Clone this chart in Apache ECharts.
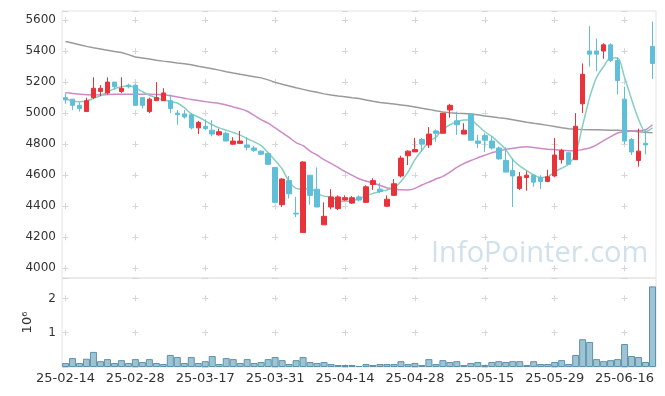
<!DOCTYPE html>
<html><head><meta charset="utf-8">
<script src="https://cdn.jsdelivr.net/npm/echarts@6/dist/echarts.min.js"></script>
<style>html,body{margin:0;padding:0;background:#fff}#c{width:665px;height:396px}</style>
</head><body><div id="c"></div>
<script>
const dates = ['25-02-14','25-02-17','25-02-18','25-02-19','25-02-20','25-02-21','25-02-24','25-02-25','25-02-26','25-02-27','25-02-28',
'25-03-04','25-03-05','25-03-06','25-03-07','25-03-10','25-03-11','25-03-12','25-03-13','25-03-14','25-03-17',
'25-03-18','25-03-19','25-03-20','25-03-21','25-03-24','25-03-25','25-03-26','25-03-27','25-03-28','25-03-31',
'25-04-01','25-04-02','25-04-03','25-04-04','25-04-07','25-04-08','25-04-09','25-04-10','25-04-11','25-04-14',
'25-04-15','25-04-16','25-04-17','25-04-18','25-04-21','25-04-22','25-04-23','25-04-24','25-04-25','25-04-28',
'25-04-29','25-04-30','25-05-02','25-05-07','25-05-08','25-05-09','25-05-12','25-05-13','25-05-14','25-05-15',
'25-05-16','25-05-19','25-05-20','25-05-21','25-05-22','25-05-23','25-05-26','25-05-27','25-05-28','25-05-29',
'25-05-30','25-06-02','25-06-04','25-06-05','25-06-09','25-06-10','25-06-11','25-06-12','25-06-13','25-06-16',
'25-06-17','25-06-18','25-06-19','25-06-20'];
// [open, close, low, high]
const ohlc = [
[5100,5085,5060,5130],[5090,5050,5020,5090],[5050,5030,5010,5070],[5010,5080,5010,5100],[5100,5160,5090,5230],
[5140,5160,5110,5180],[5130,5200,5120,5230],[5200,5170,5150,5200],[5140,5160,5130,5230],[5180,5170,5160,5190],
[5180,5050,5050,5190],[5100,5050,5030,5100],[5010,5090,5000,5100],[5080,5100,5080,5200],[5080,5130,5080,5160],
[5080,5030,5000,5120],[5000,4990,4925,5020],[4995,4975,4965,5020],[4990,4905,4895,5000],[4905,4940,4865,4950],
[4915,4900,4890,4960],[4890,4865,4850,4955],[4860,4880,4855,4900],[4870,4820,4820,4880],[4800,4820,4795,4845],
[4805,4820,4800,4885],[4795,4780,4760,4845],[4775,4760,4750,4790],[4755,4735,4730,4760],[4740,4670,4670,4745],
[4650,4425,4420,4650],[4410,4575,4395,4580],[4565,4480,4450,4595],[4355,4350,4330,4460],[4230,4685,4230,4690],
[4600,4470,4410,4600],[4510,4395,4395,4650],[4280,4335,4280,4425],[4395,4460,4380,4510],[4385,4460,4375,4470],
[4440,4455,4435,4470],[4420,4455,4415,4465],[4460,4440,4430,4470],[4425,4525,4420,4535],[4540,4565,4505,4580],
[4510,4495,4485,4550],[4400,4445,4395,4470],[4470,4545,4465,4575],[4595,4710,4585,4725],[4725,4755,4665,4760],
[4750,4765,4750,4840],[4830,4800,4750,4840],[4795,4865,4775,4910],[4885,4870,4815,4895],[4870,5000,4870,5000],
[5020,5050,4970,5060],[4950,4925,4860,5010],[4865,4890,4865,4935],[4995,4825,4825,5000],[4820,4805,4775,4860],
[4855,4825,4750,4870],[4820,4775,4765,4850],[4775,4705,4700,4785],[4695,4620,4620,4780],[4630,4595,4395,4710],
[4515,4590,4505,4620],[4585,4600,4500,4625],[4600,4555,4525,4605],[4585,4560,4510,4600],[4560,4590,4555,4635],
[4595,4730,4590,4840],[4700,4760,4675,4770],[4745,4670,4670,4750],[4700,4915,4700,5000],[5060,5250,5000,5320],
[5400,5380,5300,5560],[5400,5380,5270,5480],[5400,5440,5350,5450],[5440,5340,5330,5450],[5340,5210,5120,5360],
[5090,4820,4800,5170],[4830,4750,4730,4840],[4695,4755,4655,4900],[4805,4795,4735,4890],[5430,5320,5220,5590]];
const volume = [116000,260000,116000,240000,440000,170000,230000,116000,200000,116000,
230000,145000,230000,116000,87000,350000,290000,116000,290000,116000,
170000,320000,87000,260000,230000,116000,230000,116000,145000,230000,
290000,200000,87000,200000,290000,145000,116000,145000,87000,58000,
58000,58000,30000,87000,58000,87000,87000,87000,170000,87000,
116000,58000,230000,87000,200000,145000,170000,58000,116000,145000,
58000,145000,170000,145000,170000,170000,58000,170000,87000,87000,
145000,200000,87000,350000,810000,730000,230000,170000,200000,230000,
670000,320000,290000,145000,2350000];
const ma5 = [5093,5078,5073,5078,5095,5112,5136,5158,5170,5177,5164,5138,5115,5100,5085,5076,5065,5035,4995,4975,
4950,4925,4905,4890,4875,4858,4835,4815,4790,4745,4695,4640,4560,4515,4510,4516,4485,4465,4460,4435,
4430,4435,4448,4465,4483,4495,4505,4520,4560,4620,4700,4760,4815,4845,4895,4925,4945,4956,4955,4920,
4880,4850,4810,4765,4700,4660,4630,4601,4585,4590,4620,4645,4670,4740,4920,5100,5230,5300,5355,5355,
5230,5090,4960,4880,4905];
const ma20 = [5132,5127,5122,5118,5117,5118,5120,5121,5121,5121,5121,5121,5121,5120,5118,5112,5104,5096,5088,5082,
5074,5068,5062,5052,5040,5028,5012,4985,4958,4935,4905,4875,4843,4810,4790,4755,4730,4700,4676,4650,
4623,4600,4577,4562,4550,4535,4518,4512,4506,4505,4515,4537,4555,4575,4592,4620,4650,4675,4695,4712,
4728,4745,4755,4767,4773,4780,4783,4778,4772,4767,4765,4760,4758,4758,4766,4775,4795,4823,4848,4872,
4880,4885,4888,4893,4925];
const ma120 = [5462,5452,5441,5430,5421,5413,5405,5397,5390,5377,5362,5355,5348,5341,5335,5330,5323,5318,5312,5302,
5294,5286,5277,5267,5258,5250,5243,5235,5227,5214,5198,5186,5175,5163,5153,5143,5134,5124,5117,5111,
5106,5099,5094,5085,5076,5068,5063,5058,5053,5047,5040,5031,5024,5015,5008,5002,4999,4997,4994,4989,
4982,4976,4970,4965,4957,4949,4941,4934,4928,4921,4914,4906,4899,4896,4894,4893,4892,4891,4890,4889,
4887,4884,4880,4877,4874];

const UP = '#e8333b', DOWN = '#5fbfd9';
const GRIDC = '#e3e3e3';
const font = 'DejaVu Sans';
const chart = echarts.init(document.getElementById('c'), null, {renderer: 'canvas'});
chart.setOption({
  animation: false,
  backgroundColor: '#fff',
  graphic: [{
    type: 'text', left: 431, top: 239, z: 0,
    style: {text: 'InfoPointer.com', fontSize: 29, fontFamily: 'Open Sans', fill: 'rgba(170,200,218,0.55)'}
  }],
  grid: [
    {left: 62, right: 9, top: 11, height: 267, show: true, borderColor: GRIDC, borderWidth: 1},
    {left: 62, right: 9, top: 278, height: 89, show: true, borderColor: GRIDC, borderWidth: 1}
  ],
  xAxis: [
    {type: 'category', gridIndex: 0, data: dates, boundaryGap: true,
     axisLine: {show: false}, axisTick: {show: false}, axisLabel: {show: false},
     splitLine: {show: true, interval: 9, alignWithLabel: true,
       lineStyle: {color: '#d6d6d6', width: 1, type: [6, 25.04], dashOffset: 25.04}}},
    {type: 'category', gridIndex: 1, data: dates, boundaryGap: true,
     axisLine: {show: false}, axisTick: {show: false},
     axisLabel: {interval: 9, color: '#333', fontFamily: font, fontSize: 13, margin: 5},
     splitLine: {show: true, interval: 9, alignWithLabel: true,
       lineStyle: {color: '#d6d6d6', width: 1, type: [6, 28.3], dashOffset: 16.9}}}
  ],
  yAxis: [
    {type: 'value', gridIndex: 0, min: 3937.5, max: 5658, splitNumber: 8, minInterval: 200, maxInterval: 200,
     axisLine: {show: false}, axisTick: {show: false},
     axisLabel: {color: '#333', fontFamily: font, fontSize: 12, margin: 6, showMinLabel: false, showMaxLabel: false,
       formatter: v => String(v)},
     splitLine: {show: true, lineStyle: {color: '#d6d6d6', width: 1, type: [6, 63.88], dashOffset: 69.4}}},
    {type: 'value', gridIndex: 1, min: 0, max: 2595000, splitNumber: 2, minInterval: 1000000, maxInterval: 1000000,
     axisLine: {show: false}, axisTick: {show: false},
     name: '10\u2076', nameLocation: 'middle', nameGap: 28, nameRotate: 90,
     nameTextStyle: {color: '#333', fontFamily: font, fontSize: 13},
     axisLabel: {color: '#333', fontFamily: font, fontSize: 12, margin: 6, showMinLabel: false, showMaxLabel: false,
       formatter: v => String(v / 1000000)},
     splitLine: {show: true, lineStyle: {color: '#d6d6d6', width: 1, type: [6, 63.88], dashOffset: 69.4}}}
  ],
  series: [
    {name: 'MA120', type: 'line', xAxisIndex: 0, yAxisIndex: 0, data: ma120, showSymbol: false,
     lineStyle: {color: '#9a9a9a', width: 1.5}, z: 2},
    {name: 'MA20', type: 'line', xAxisIndex: 0, yAxisIndex: 0, data: ma20, showSymbol: false, smooth: 0.3,
     lineStyle: {color: '#cc8ac6', width: 1.5}, z: 2},
    {name: 'MA5', type: 'line', xAxisIndex: 0, yAxisIndex: 0, data: ma5, showSymbol: false, smooth: 0.3,
     lineStyle: {color: '#86cfc0', width: 1.5}, z: 2},
    {name: 'price', type: 'candlestick', xAxisIndex: 0, yAxisIndex: 0, data: ohlc, barWidth: 5, z: 3,
     itemStyle: {color: UP, color0: DOWN, borderColor: UP, borderColor0: DOWN, borderWidth: 1}},
    {name: 'volume', type: 'bar', xAxisIndex: 1, yAxisIndex: 1, data: volume, barCategoryGap: 0,
     itemStyle: {color: '#9dc4d5', borderColor: '#5f92aa', borderWidth: 1}}
  ]
});
</script></body></html>
